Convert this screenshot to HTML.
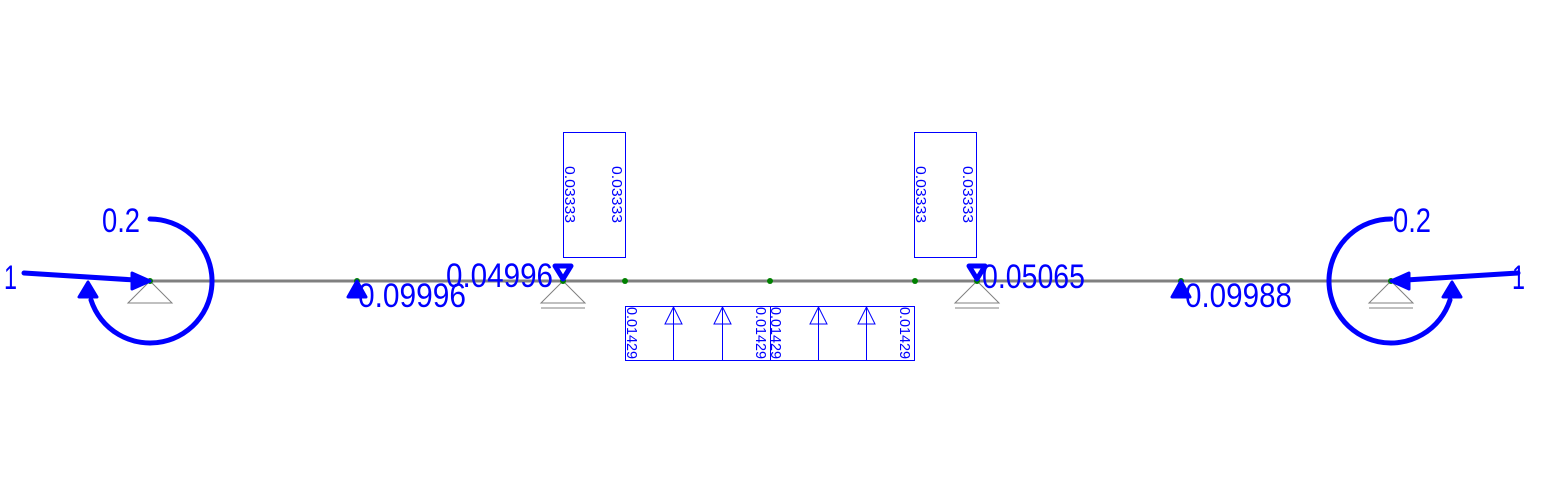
<!DOCTYPE html>
<html><head><meta charset="utf-8"><style>
html,body{margin:0;padding:0;background:#fff;width:1548px;height:488px;overflow:hidden}
svg{display:block}
text{font-family:"Liberation Sans Narrow","Liberation Sans",sans-serif;fill:#0000ff}
.big{font-size:34px}
.sm{font-size:15px}
</style></head><body>
<svg width="1548" height="488" viewBox="0 0 1548 488" xmlns="http://www.w3.org/2000/svg">
<line x1="150" y1="281" x2="1391" y2="281" stroke="#808080" stroke-width="3"/>
<g fill="none" stroke="#808080" stroke-width="1">
<polygon points="150,281 128,303 172,303"/>
<polygon points="563,281 541,303 585,303"/><line x1="541" y1="308" x2="585" y2="308"/>
<polygon points="977,281 955,303 999,303"/><line x1="955" y1="308" x2="999" y2="308"/>
<polygon points="1391,281 1369,303 1413,303"/><line x1="1369" y1="308" x2="1413" y2="308"/>
</g>
<g fill="#008000">
<circle cx="150" cy="281" r="3"/><circle cx="357" cy="281" r="3"/><circle cx="563" cy="281" r="3"/>
<circle cx="625" cy="281" r="3"/><circle cx="770" cy="281" r="3"/><circle cx="915" cy="281" r="3"/>
<circle cx="977" cy="281" r="3"/><circle cx="1181" cy="281" r="3"/><circle cx="1391" cy="281" r="3"/>
</g>
<g stroke="#0000ff" stroke-width="5" fill="none" stroke-linecap="round">
<line x1="24" y1="273" x2="135" y2="280"/>
<path d="M150,219 A62,62 0 1 1 91,300"/>
<line x1="1518" y1="273" x2="1406" y2="280"/>
<path d="M1391,219 A62,62 0 1 0 1450,300"/>
</g>
<g fill="#0000ff" stroke="#0000ff" stroke-width="3" stroke-linejoin="round">
<polygon points="150,281 132,273 132,289"/>
<polygon points="88,282 79,297 97,297"/>
<polygon points="1391,281 1409,273 1409,289"/>
<polygon points="1452,282 1443,297 1461,297"/>
<polygon points="357,281 348,297 366,297"/>
<polygon points="1181,281 1172,297 1190,297"/>
</g>
<g fill="none" stroke="#0000ff" stroke-width="5" stroke-linejoin="round">
<polygon points="563,279 555,266 571,266"/>
<polygon points="977,279 969,266 985,266"/>
</g>
<text class="big" x="4" y="289" textLength="13" lengthAdjust="spacingAndGlyphs">1</text>
<text class="big" x="102" y="232" textLength="38" lengthAdjust="spacingAndGlyphs">0.2</text>
<text class="big" x="1512" y="289" textLength="13" lengthAdjust="spacingAndGlyphs">1</text>
<text class="big" x="1393" y="232" textLength="38" lengthAdjust="spacingAndGlyphs">0.2</text>
<text class="big" x="358" y="307" textLength="108" lengthAdjust="spacingAndGlyphs">0.09996</text>
<text class="big" x="446" y="287" textLength="107" lengthAdjust="spacingAndGlyphs">0.04996</text>
<text class="big" x="982" y="288" textLength="103" lengthAdjust="spacingAndGlyphs">0.05065</text>
<text class="big" x="1185" y="307" textLength="107" lengthAdjust="spacingAndGlyphs">0.09988</text>
<g fill="none" stroke="#0000ff" stroke-width="1">
<rect x="563.5" y="132.5" width="62" height="125"/>
<rect x="914.5" y="132.5" width="62" height="125"/>
<rect x="625.5" y="306.5" width="289" height="54"/>
<line x1="770.5" y1="306" x2="770.5" y2="360"/>
<line x1="673.5" y1="306" x2="673.5" y2="360"/>
<line x1="722.5" y1="306" x2="722.5" y2="360"/>
<line x1="818.5" y1="306" x2="818.5" y2="360"/>
<line x1="866.5" y1="306" x2="866.5" y2="360"/>
<polygon points="673.5,307 665,324 682,324"/>
<polygon points="722.5,307 714,324 731,324"/>
<polygon points="818.5,307 810,324 827,324"/>
<polygon points="866.5,307 858,324 875,324"/>
</g>
<text class="sm" transform="translate(565,166) rotate(90)" textLength="57" lengthAdjust="spacingAndGlyphs">0.03333</text>
<text class="sm" transform="translate(612,166) rotate(90)" textLength="57" lengthAdjust="spacingAndGlyphs">0.03333</text>
<text class="sm" transform="translate(916,166) rotate(90)" textLength="57" lengthAdjust="spacingAndGlyphs">0.03333</text>
<text class="sm" transform="translate(963,166) rotate(90)" textLength="57" lengthAdjust="spacingAndGlyphs">0.03333</text>
<text class="sm" transform="translate(627,307) rotate(90)" textLength="52" lengthAdjust="spacingAndGlyphs">0.01429</text>
<text class="sm" transform="translate(756,307) rotate(90)" textLength="52" lengthAdjust="spacingAndGlyphs">0.01429</text>
<text class="sm" transform="translate(771,307) rotate(90)" textLength="52" lengthAdjust="spacingAndGlyphs">0.01429</text>
<text class="sm" transform="translate(900,307) rotate(90)" textLength="52" lengthAdjust="spacingAndGlyphs">0.01429</text>
</svg>
</body></html>
